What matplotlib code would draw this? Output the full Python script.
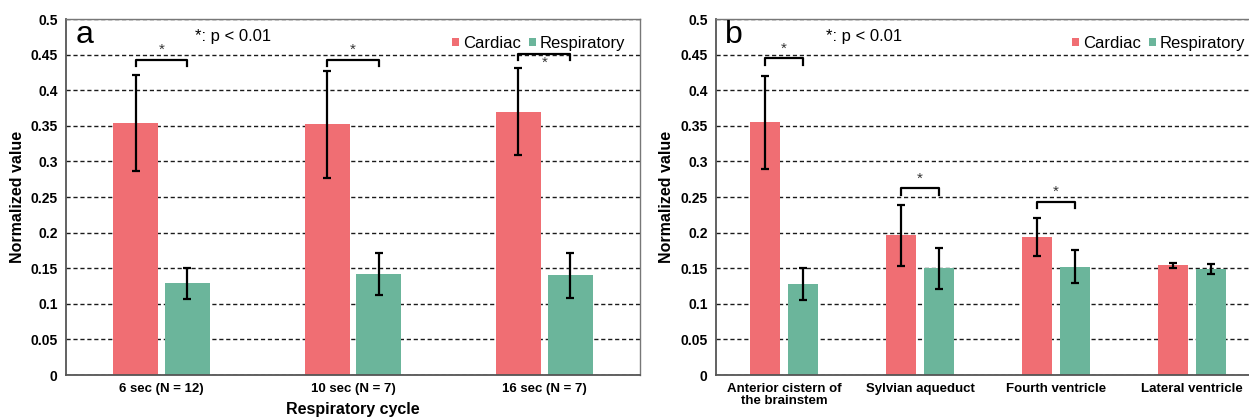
import numpy as np
import matplotlib
matplotlib.use('Agg')
import matplotlib.pyplot as plt
from matplotlib.ticker import FuncFormatter

plt.rcParams['font.family'] = ['Liberation Sans', 'DejaVu Sans']

# panel a data
cycles = ['6 sec (N = 12)', '10 sec (N = 7)', '16 sec (N = 7)']
a_cardiac = [0.354, 0.352, 0.370]
a_cardiac_err = [0.067, 0.075, 0.061]
a_resp = [0.129, 0.142, 0.140]
a_resp_err = [0.022, 0.030, 0.032]

# panel b data
regions = ['Anterior cistern of\nthe brainstem', 'Sylvian aqueduct',
           'Fourth ventricle', 'Lateral ventricle']
b_cardiac = [0.355, 0.196, 0.194, 0.154]
b_cardiac_err = [0.065, 0.043, 0.027, 0.004]
b_resp = [0.128, 0.150, 0.152, 0.149]
b_resp_err = [0.022, 0.029, 0.023, 0.007]

# significance brackets: (group index, bracket height, star above?)
a_sig = [(0, 0.443, True), (1, 0.443, True), (2, 0.451, False)]
b_sig = [(0, 0.445, True), (1, 0.262, True), (2, 0.243, True)]

c_card = '#F06E73'
c_resp = '#6BB59B'

fig = plt.figure(figsize=(12.49, 4.2), dpi=100)
ax_a = fig.add_axes([0.0528, 0.1071, 0.4596, 0.8476])
ax_b = fig.add_axes([0.5733, 0.1071, 0.4355, 0.8476])


def fmt(v, pos):
    s = ('%.2f' % v).rstrip('0').rstrip('.')
    return s


def draw(ax, labels, card, card_err, resp, resp_err, sig, width, off, tag, leg_x):
    x = np.arange(len(labels)) + 0.5
    ekw = dict(ecolor='black', elinewidth=1.6, capsize=3, capthick=1.6)
    ax.bar(x - off, card, width, color=c_card, label='Cardiac', zorder=2,
           yerr=card_err, error_kw=ekw)
    ax.bar(x + off, resp, width, color=c_resp, label='Respiratory', zorder=2,
           yerr=resp_err, error_kw=ekw)
    ax.set_xlim(0, len(labels))
    ax.set_ylim(0, 0.5)
    ax.set_yticks(np.arange(0, 0.501, 0.05))
    ax.yaxis.set_major_formatter(FuncFormatter(fmt))
    ax.set_xticks(x)
    ax.set_xticklabels(labels, fontweight='bold', fontsize=9.5, linespacing=1.0)
    for t in ax.get_yticklabels():
        t.set_fontweight('bold')
        t.set_fontsize(10)
    ax.tick_params(length=0, pad=6)
    ax.yaxis.grid(True, linestyle=(0, (3, 2)), color='#1a1a1a', linewidth=1.0, zorder=0)
    ax.set_axisbelow(True)
    for s in ['top', 'right']:
        ax.spines[s].set_color('#777777')
        ax.spines[s].set_linewidth(1.0)
    for s in ['left', 'bottom']:
        ax.spines[s].set_color('#555555')
        ax.spines[s].set_linewidth(1.3)
    ax.set_ylabel('Normalized value', fontweight='bold', fontsize=11.5)
    for i, h, above in sig:
        x0, x1 = x[i] - off, x[i] + off
        ax.plot([x0, x0, x1, x1], [h - 0.009, h, h, h - 0.009], color='black',
                lw=1.6, zorder=3)
        if above:
            ax.text((x0 + x1) / 2, h + 0.004, '*', ha='center', va='bottom',
                    fontsize=11, color='#333333')
        else:
            ax.text((x0 + x1) / 2, h - 0.003, '*', ha='center', va='top',
                    fontsize=11, color='#333333')
    ax.text(0.016, 0.933, tag, transform=ax.transAxes, fontsize=23,
            va='baseline', ha='left')
    ax.legend(loc='upper right', bbox_to_anchor=(leg_x, 0.985), frameon=False,
              fontsize=12, handlelength=0.42, handleheight=0.42,
              handletextpad=0.25, columnspacing=0.45, ncol=2, borderaxespad=0.3)


draw(ax_a, cycles, a_cardiac, a_cardiac_err, a_resp, a_resp_err, a_sig,
     0.235, 0.135, 'a', 0.995)
ax_a.text(0.225, 0.952, '*: p < 0.01', transform=ax_a.transAxes, fontsize=12,
          va='center', ha='left')
ax_a.set_xlabel('Respiratory cycle', fontweight='bold', fontsize=11.5, labelpad=5)
ax_a.yaxis.set_label_coords(-0.072, 0.5)

draw(ax_b, regions, b_cardiac, b_cardiac_err, b_resp, b_resp_err, b_sig,
     0.22, 0.14, 'b', 0.995)
ax_b.text(0.202, 0.952, '*: p < 0.01', transform=ax_b.transAxes, fontsize=12,
          va='center', ha='left')
ax_b.yaxis.set_label_coords(-0.078, 0.5)

fig.savefig('out.png', dpi=100)
